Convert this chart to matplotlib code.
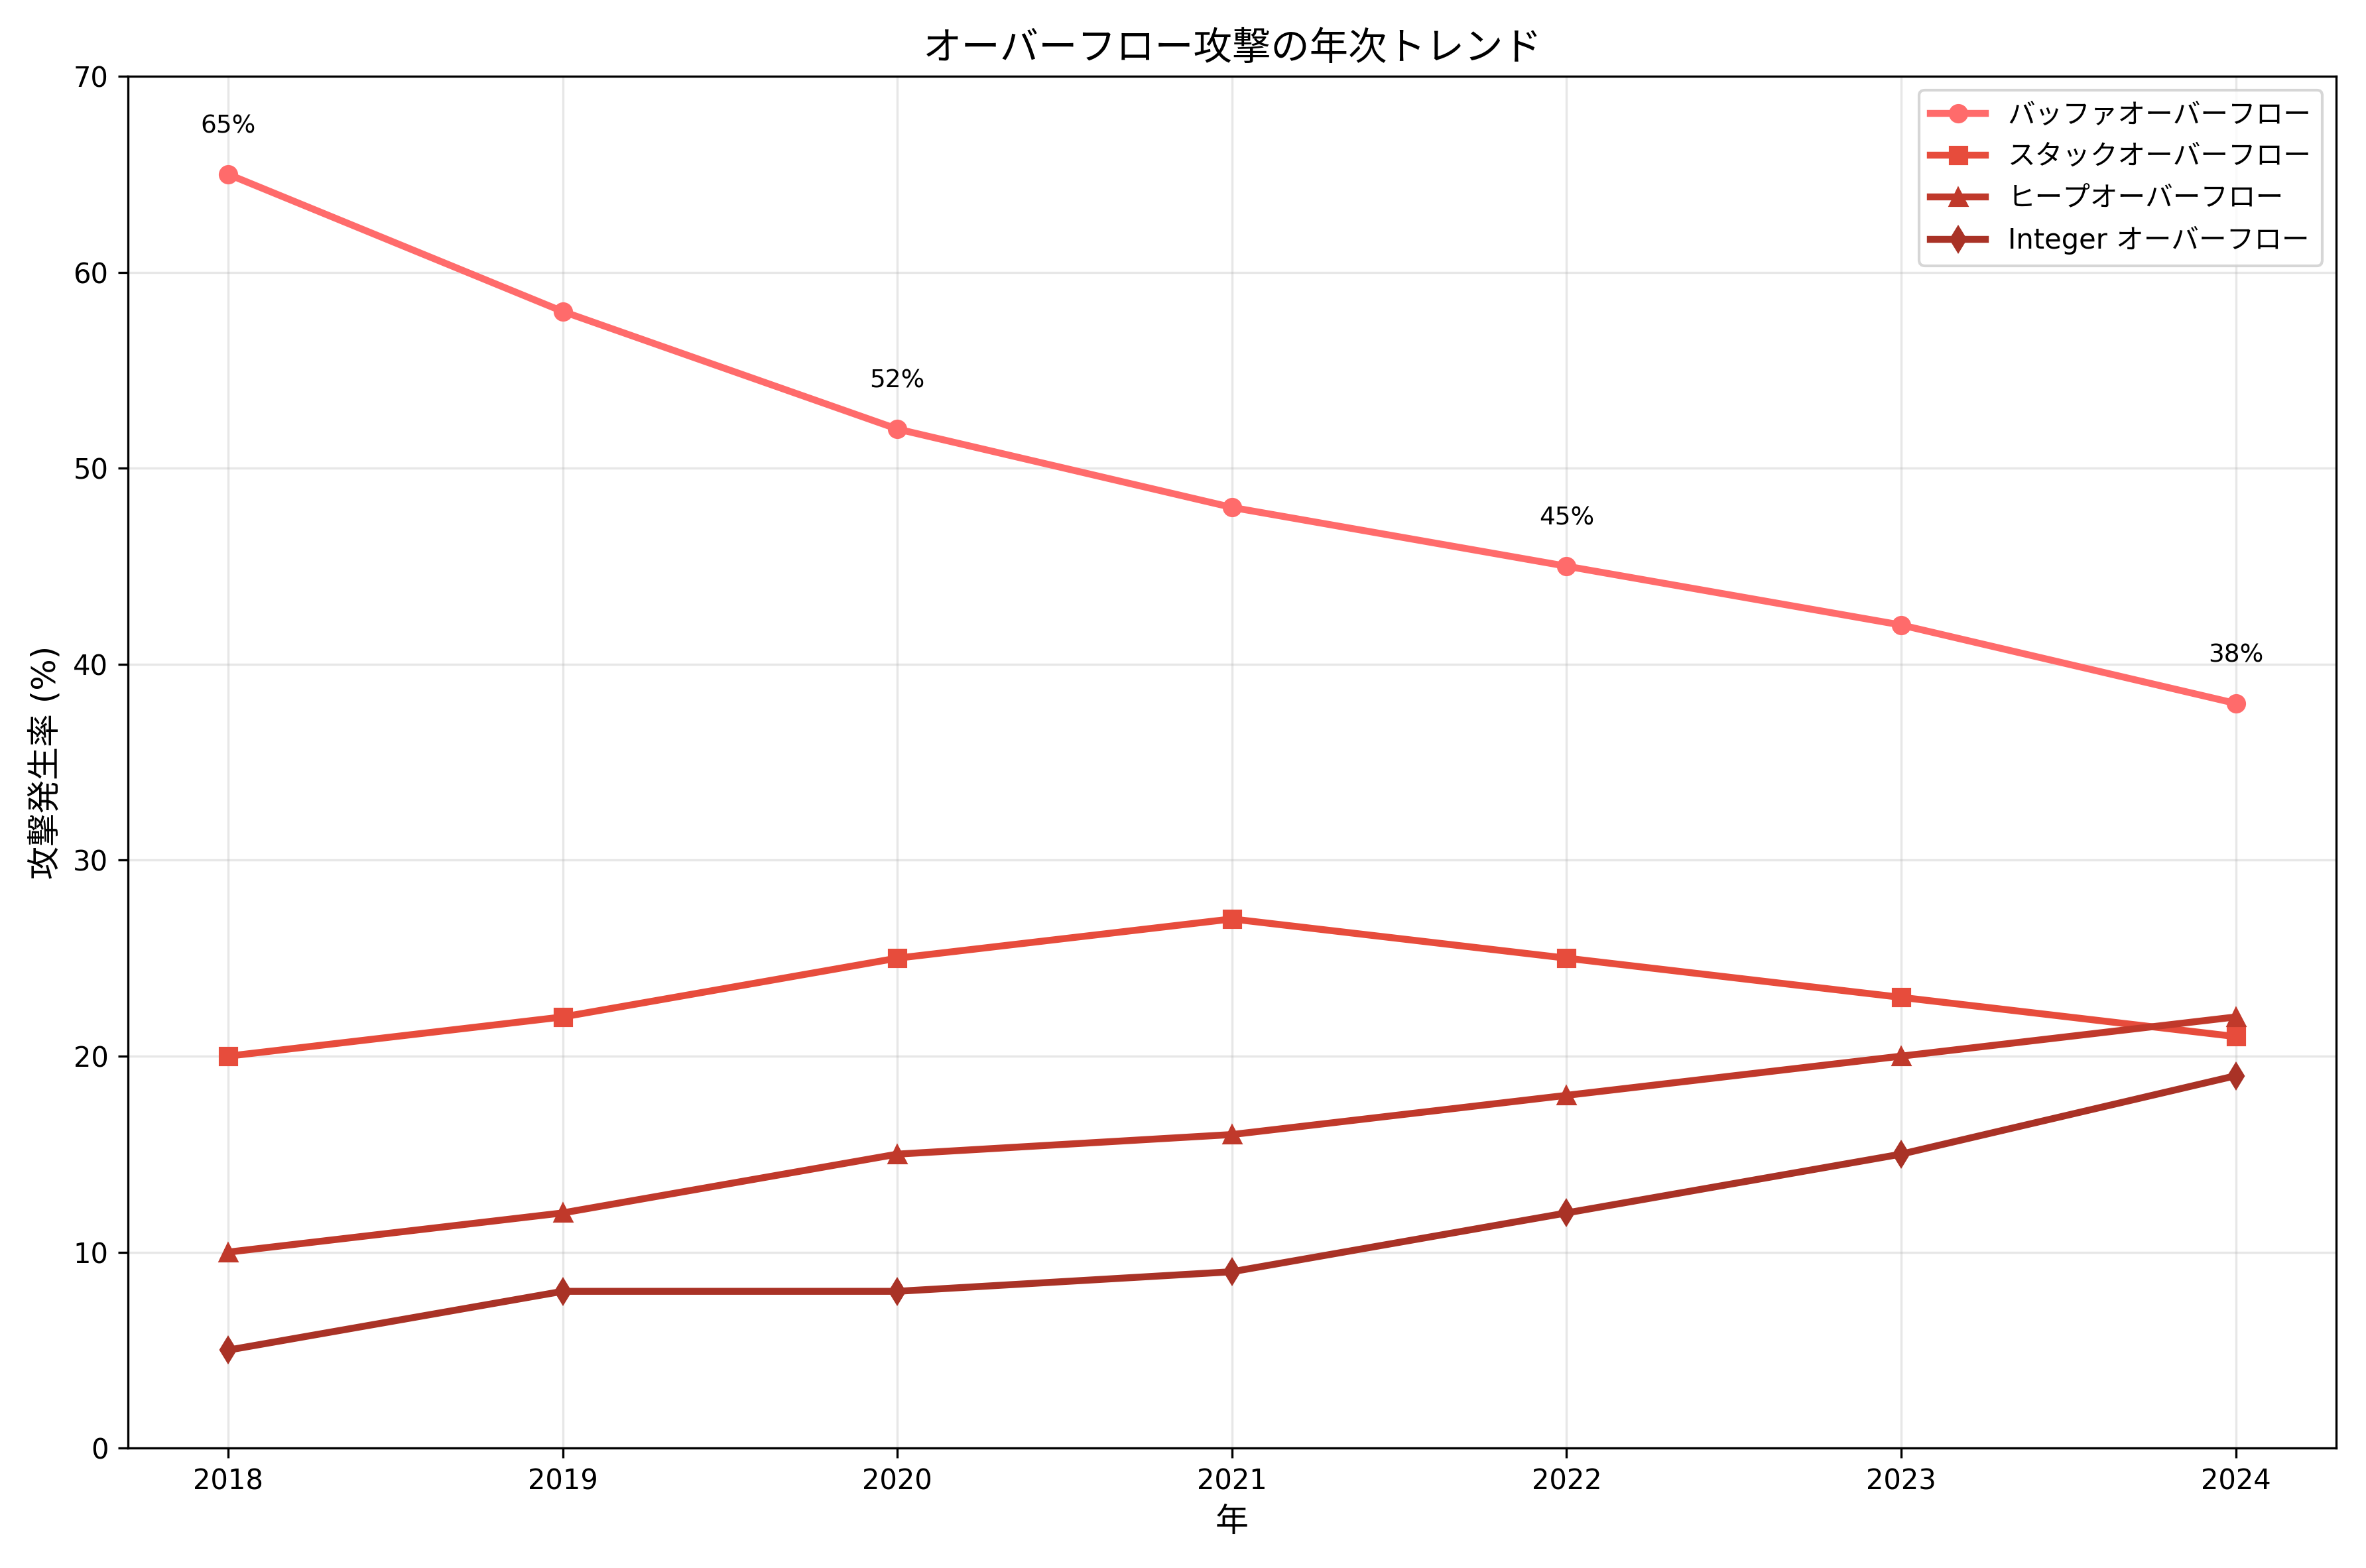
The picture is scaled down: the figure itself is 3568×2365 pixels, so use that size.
import matplotlib
matplotlib.use("Agg")
import matplotlib.pyplot as plt

plt.rcParams["font.family"] = ["DejaVu Sans", "Noto Sans CJK JP"]

years = [2018, 2019, 2020, 2021, 2022, 2023, 2024]
buffer = [65, 58, 52, 48, 45, 42, 38]
stack = [20, 22, 25, 27, 25, 23, 21]
heap = [10, 12, 15, 16, 18, 20, 22]
integer = [5, 8, 8, 9, 12, 15, 19]
labels = ["バッファオーバーフロー", "スタックオーバーフロー", "ヒープオーバーフロー", "Integer オーバーフロー"]
colors = ["#FF6B6B", "#E74C3C", "#C0392B", "#A93226"]
markers = ["o", "s", "^", "d"]

DPI = 300
fig, ax = plt.subplots(figsize=(3568/DPI, 2365/DPI), dpi=DPI)
for s, lab, c, m in zip([buffer, stack, heap, integer], labels, colors, markers):
    ax.plot(years, s, color=c, marker=m, linewidth=2.5, markersize=6, label=lab)

for i in range(0, len(years), 2):
    ax.annotate(f"{buffer[i]}%", (years[i], buffer[i]), textcoords="offset points",
                xytext=(0, 15), ha="center", fontsize=9)

ax.set_ylim(0, 70)
ax.set_xticks(years)
ax.set_title("オーバーフロー攻撃の年次トレンド", fontsize=14)
ax.set_xlabel("年", fontsize=12)
ax.set_ylabel("攻撃発生率 (%)", fontsize=12)
ax.grid(True, alpha=0.3)
ax.legend(loc="upper right")
fig.tight_layout()
fig.savefig("out.png", dpi=DPI)
